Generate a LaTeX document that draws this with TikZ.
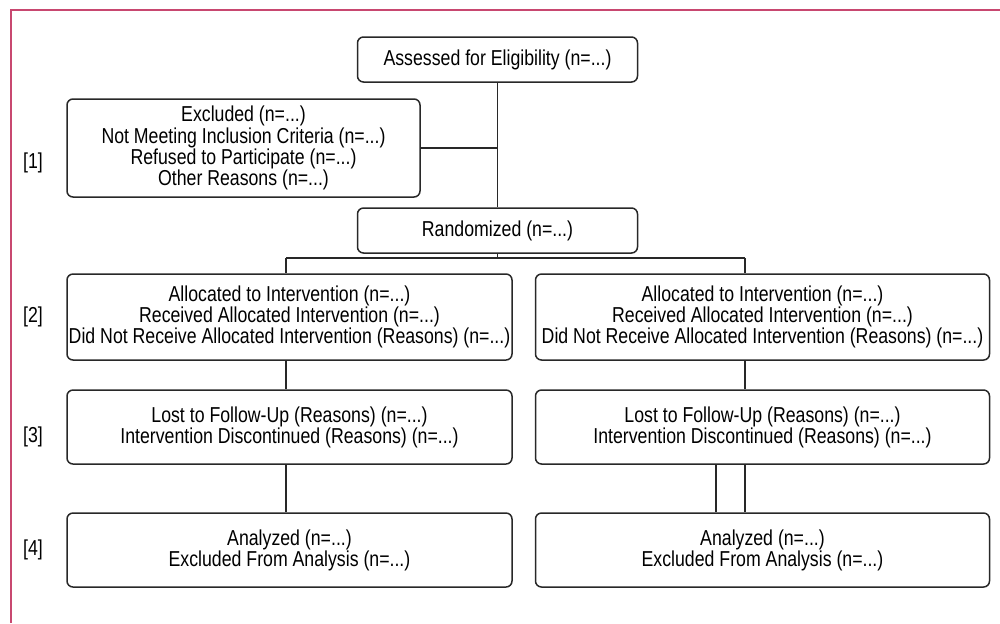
\documentclass[tikz,border=0pt]{standalone}
\usepackage{fontspec}
\setmainfont{Liberation Sans}[FakeStretch=0.82]
\definecolor{framered}{RGB}{200,72,112}
\definecolor{boxline}{RGB}{40,40,40}
\begin{document}
\begin{tikzpicture}[x=0.5pt, y=-0.5pt, line width=0.75pt, draw=boxline,
  box/.style = {draw=boxline, rounded corners=3pt, align=center, inner sep=0pt,
    font=\fontsize{10.8}{10.6}\selectfont, minimum height=22.5pt},
  wide/.style = {box, minimum width=222.5pt},
  wider/.style = {box, minimum width=227pt},
  stage/.style = {font=\fontsize{10.8}{10.6}\selectfont}]
\useasboundingbox (0,0) rectangle (1000,623);
\draw[framered, line width=1pt] (11,623) -- (11,10) -- (1000,10);

\node[box, minimum width=140pt] (assess) at (497.5,59.5) {Assessed for Eligibility (n=...)};
\node[box, minimum width=176.5pt, minimum height=49pt] (excl) at (243.5,148)
  {Excluded (n=...)\\Not Meeting Inclusion Criteria (n=...)\\Refused to Participate (n=...)\\Other Reasons (n=...)};
\node[box, minimum width=140pt] (rand) [below of=assess, node distance=85.5pt] {Randomized (n=...)};

\node[wide, minimum height=43pt] (allocL) at (289.5,317)
  {Allocated to Intervention (n=...)\\Received Allocated Intervention (n=...)\\Did Not Receive Allocated Intervention (Reasons) (n=...)};
\node[wider, minimum height=43pt] (allocR) [right of=allocL, node distance=236.5pt]
  {Allocated to Intervention (n=...)\\Received Allocated Intervention (n=...)\\Did Not Receive Allocated Intervention (Reasons) (n=...)};
\node[wide, minimum height=37pt] (lostL) [below of=allocL, node distance=55pt]
  {Lost to Follow-Up (Reasons) (n=...)\\Intervention Discontinued (Reasons) (n=...)};
\node[wider, minimum height=37pt] (lostR) [below of=allocR, node distance=55pt]
  {Lost to Follow-Up (Reasons) (n=...)\\Intervention Discontinued (Reasons) (n=...)};
\node[wide, minimum height=37pt] (analL) [below of=lostL, node distance=61.5pt]
  {Analyzed (n=...)\\Excluded From Analysis (n=...)};
\node[wider, minimum height=37pt] (analR) [below of=lostR, node distance=61.5pt]
  {Analyzed (n=...)\\Excluded From Analysis (n=...)};

\node[stage] (s1) at (33,163) {[1]};
\node[stage] (s2) at (33,317) {[2]};
\node[stage] (s3) at (33,437) {[3]};
\node[stage] (s4) at (33,550) {[4]};

\coordinate (brL) at (286,258);
\coordinate (brR) at (745,258);

\draw (assess) -- (rand);
\draw (excl.east) -- (excl.east -| assess.south);
\draw (rand.south) -- (rand.south |- brL);
\draw (brL) -- (brR);
\draw (brL) -- (brL |- allocL.north);
\draw (brR) -- (brR |- allocR.north);
\draw (allocL.south -| brL) -- (lostL.north -| brL);
\draw (allocR.south -| brR) -- (lostR.north -| brR);
\draw (lostL.south -| brL) -- (analL.north -| brL);
\draw (lostR.south -| brR) -- (analR.north -| brR);
\draw ([xshift=-14.5pt]lostR.south -| brR) -- ([xshift=-14.5pt]analR.north -| brR);

\end{tikzpicture}
\end{document}
